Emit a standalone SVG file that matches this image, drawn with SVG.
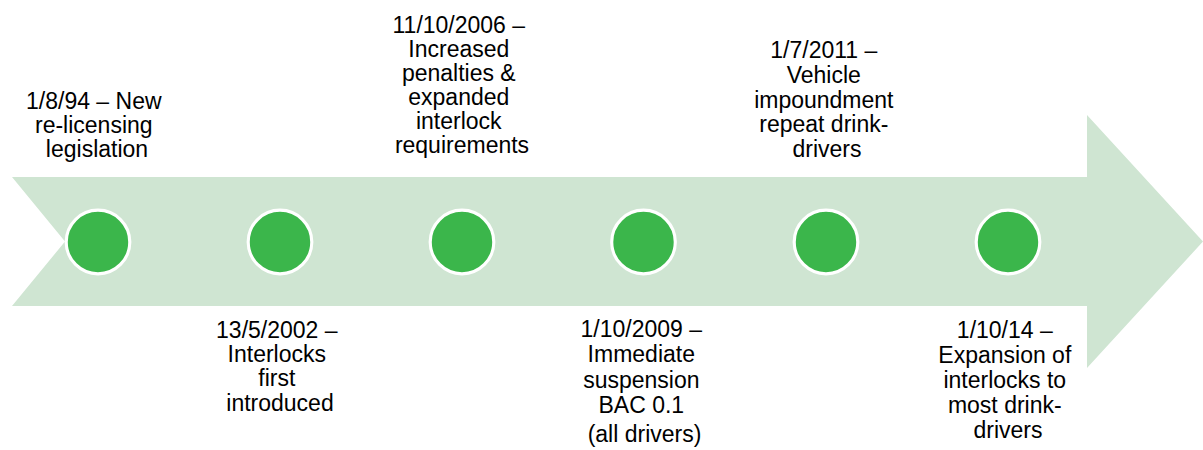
<svg xmlns="http://www.w3.org/2000/svg" width="1203" height="450" viewBox="0 0 1203 450">
  <style>
    .lbl { font-family: "Liberation Sans", Arial, sans-serif; font-size: 23px; fill: #000; text-anchor: middle; }
    .dot { fill: #3bb64b; stroke: #ffffff; stroke-width: 3.2; }
  </style>

  <!-- timeline band: notched tail on the left, arrowhead on the right -->
  <g id="timeline-arrow">
    <polygon points="12,177 1087,177 1087,115 1203,241.5 1087,368 1087,306 12,306 65,241.5" fill="#cfe5d2"/>
  </g>

  <g id="connectors"></g>

  <g id="event-1994">
    <circle class="dot" cx="98" cy="242" r="31.8"/>
    <text class="lbl" x="97" y="108.5">
      <tspan x="97">1/8/94 – New</tspan>
      <tspan x="97" dy="24">re-licensing</tspan>
      <tspan x="97" dy="24">legislation</tspan>
    </text>
  </g>

  <g id="event-2002">
    <circle class="dot" cx="280" cy="242" r="31.8"/>
    <text class="lbl" x="280" y="338">
      <tspan x="280">13/5/2002 –</tspan>
      <tspan x="280" dy="24.2">Interlocks</tspan>
      <tspan x="280" dy="24.2">first</tspan>
      <tspan x="280" dy="24.2">introduced</tspan>
    </text>
  </g>

  <g id="event-2006">
    <circle class="dot" cx="462" cy="242" r="31.8"/>
    <text class="lbl" x="462" y="33.3">
      <tspan x="462">11/10/2006 –</tspan>
      <tspan x="462" dy="24">Increased</tspan>
      <tspan x="462" dy="24">penalties &amp;</tspan>
      <tspan x="462" dy="24">expanded</tspan>
      <tspan x="462" dy="24">interlock</tspan>
      <tspan x="462" dy="24">requirements</tspan>
    </text>
  </g>

  <g id="event-2009">
    <circle class="dot" cx="643.5" cy="242" r="31.8"/>
    <text class="lbl" x="644.5" y="337.3">
      <tspan x="644.5">1/10/2009 –</tspan>
      <tspan x="644.5" dy="25.1">Immediate</tspan>
      <tspan x="644.5" dy="25.1">suspension</tspan>
      <tspan x="644.5" dy="25.1">BAC 0.1</tspan>
      <tspan x="644.5" dy="29.5">(all drivers)</tspan>
    </text>
  </g>

  <g id="event-2011">
    <circle class="dot" cx="826" cy="242" r="31.8"/>
    <text class="lbl" x="827" y="58.3">
      <tspan x="827">1/7/2011 –</tspan>
      <tspan x="827" dy="24.7">Vehicle</tspan>
      <tspan x="827" dy="24.7">impoundment</tspan>
      <tspan x="827" dy="24.7">repeat drink-</tspan>
      <tspan x="827" dy="24.7">drivers</tspan>
    </text>
  </g>

  <g id="event-2014">
    <circle class="dot" cx="1008" cy="242" r="31.8"/>
    <text class="lbl" x="1008" y="338.3">
      <tspan x="1008">1/10/14 –</tspan>
      <tspan x="1008" dy="25">Expansion of</tspan>
      <tspan x="1008" dy="25">interlocks to</tspan>
      <tspan x="1008" dy="25">most drink-</tspan>
      <tspan x="1008" dy="25">drivers</tspan>
    </text>
  </g>
</svg>
